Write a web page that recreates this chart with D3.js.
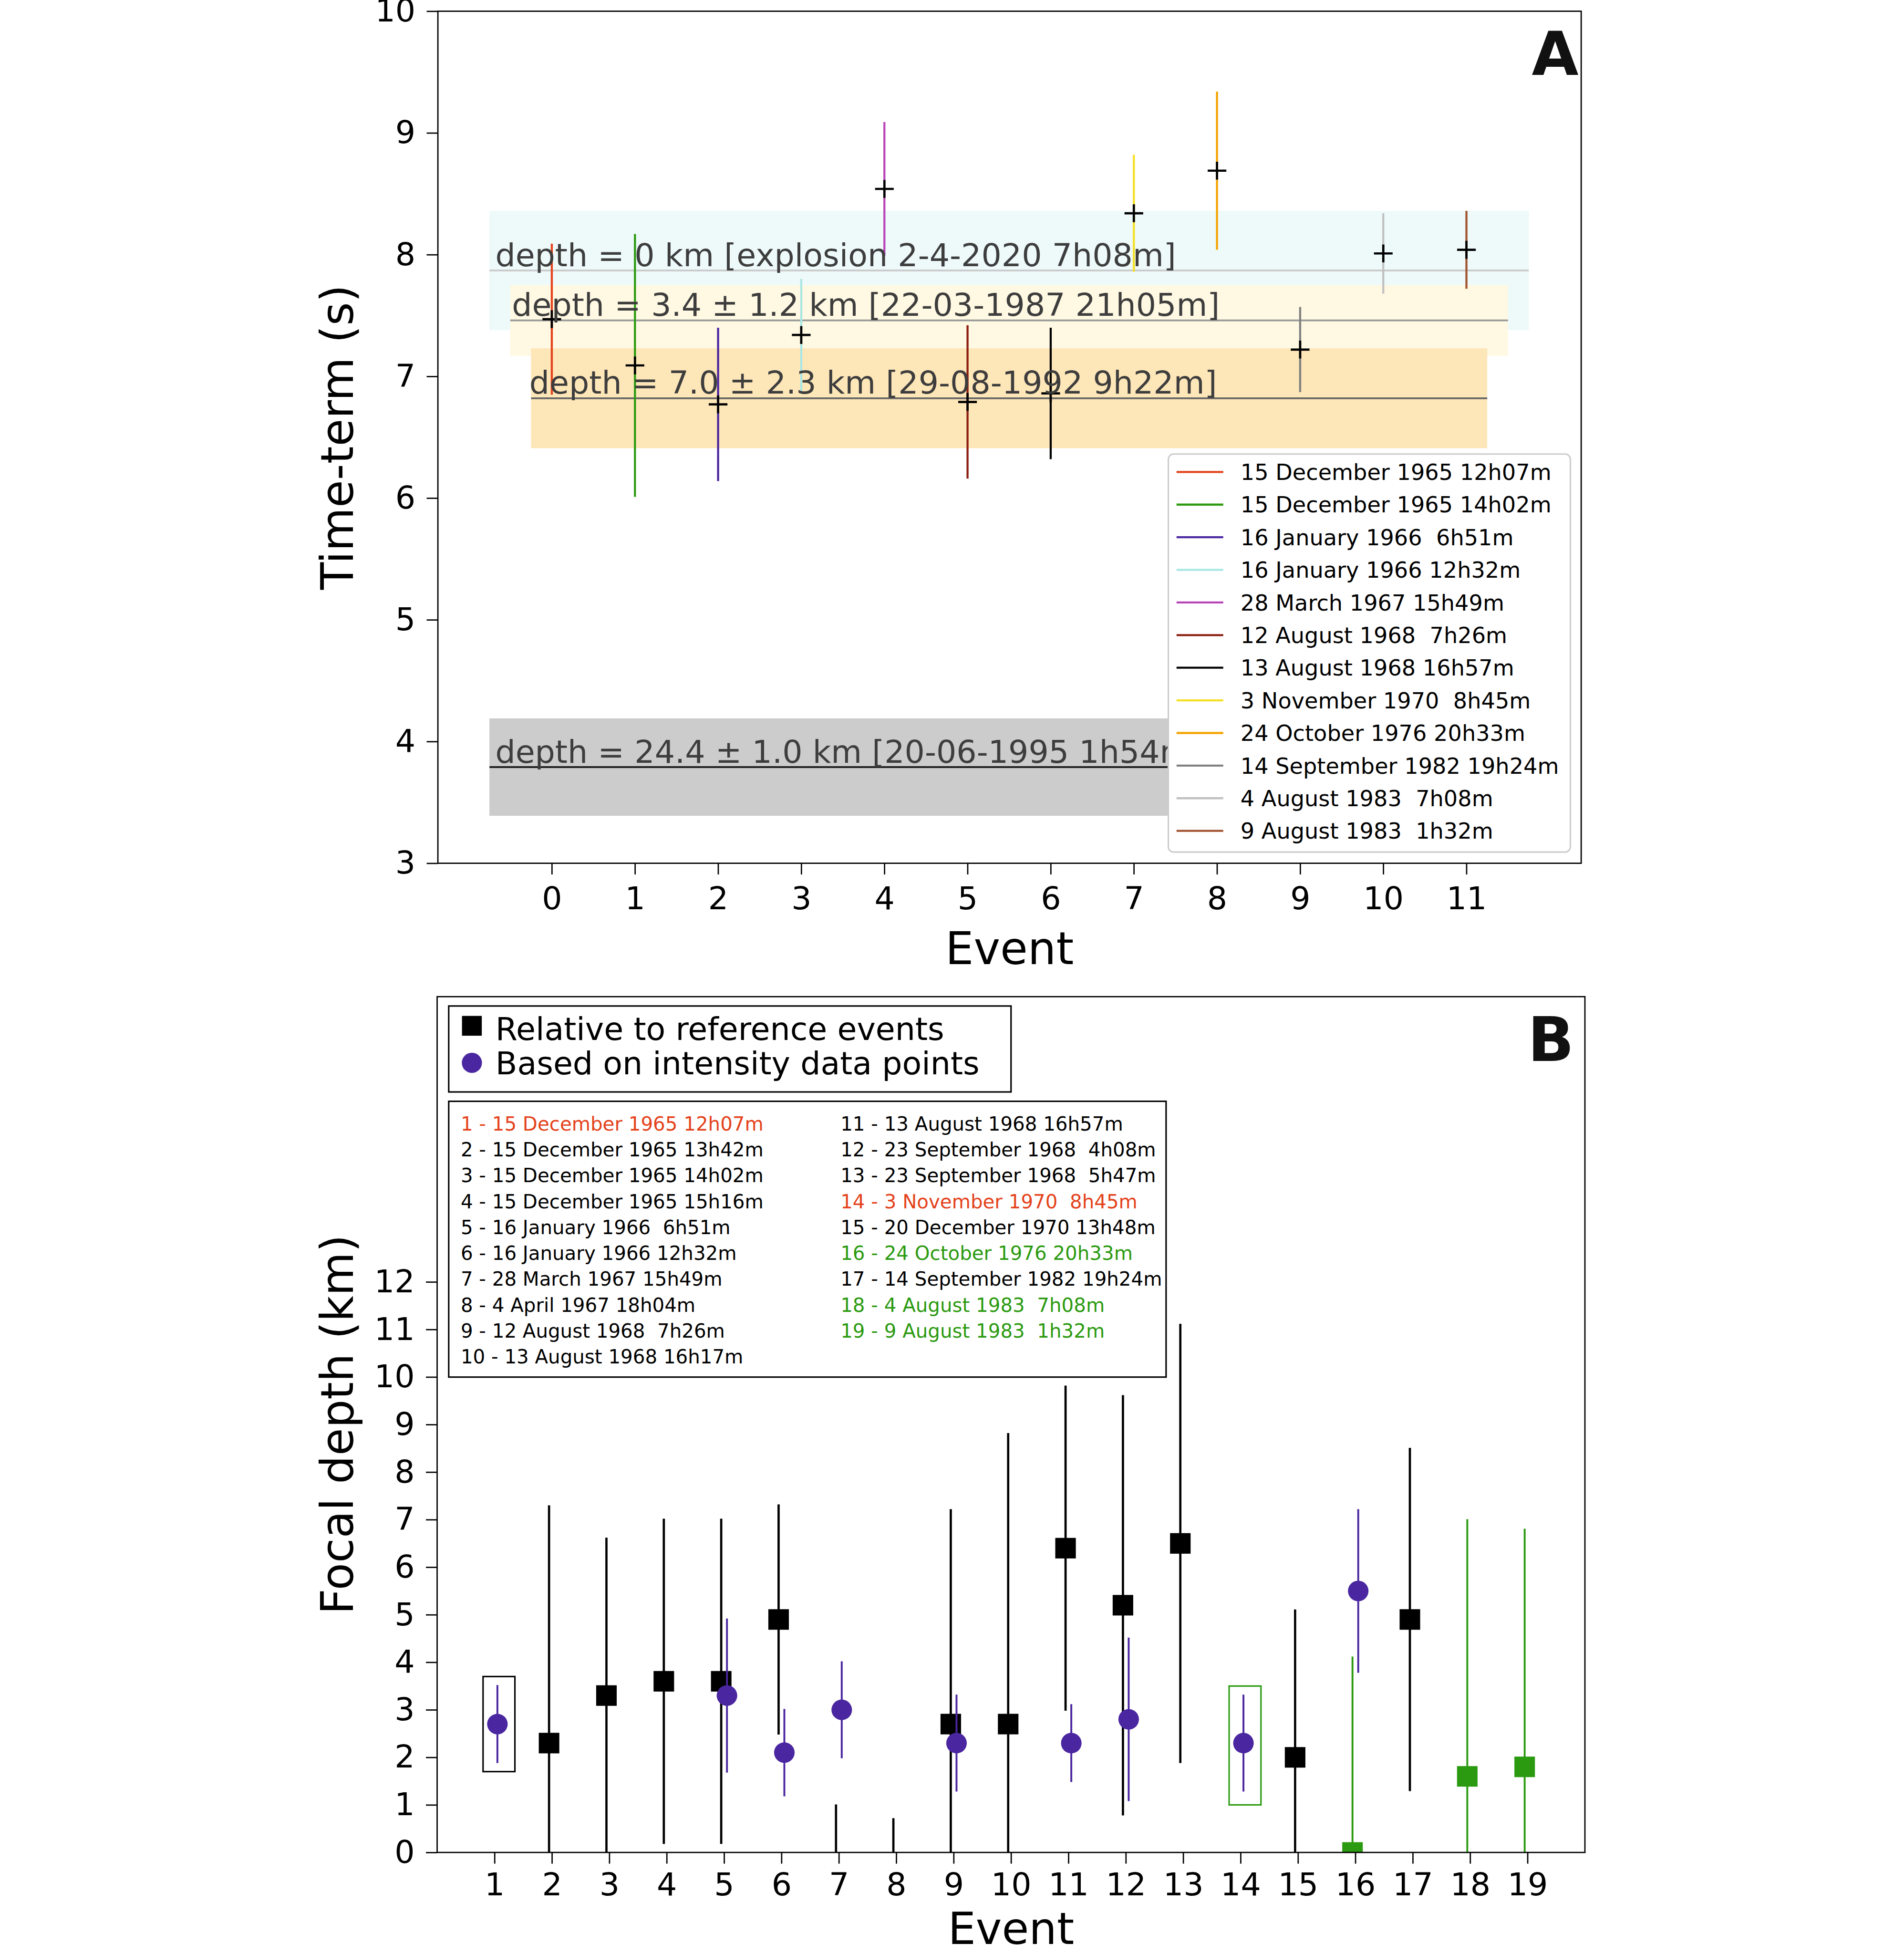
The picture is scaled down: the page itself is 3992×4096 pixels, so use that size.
<!DOCTYPE html>
<html>
<head>
<meta charset="utf-8">
<script src="https://cdn.jsdelivr.net/npm/d3@7/dist/d3.min.js"></script>
<style>
  body { margin: 0; background: #fff; }
  text { font-family: "DejaVu Sans", sans-serif; white-space: pre; }
</style>
</head>
<body>
<svg id="chart"></svg>
<script>
// ---- panel A : time-terms ----
const eventsA = [0, 1, 2, 3, 4, 5, 6, 7, 8, 9, 10, 11];
const timeTerm = [7.47, 7.09, 6.77, 7.34, 8.54, 6.79, 6.86, 8.34, 8.69, 7.22, 8.01, 8.04];
const timeTermErr = [0.62, 1.08, 0.63, 0.46, 0.55, 0.63, 0.54, 0.48, 0.65, 0.35, 0.33, 0.32];
const eventNamesA = ["15 December 1965 12h07m", "15 December 1965 14h02m", "16 January 1966  6h51m",
  "16 January 1966 12h32m", "28 March 1967 15h49m", "12 August 1968  7h26m", "13 August 1968 16h57m",
  "3 November 1970  8h45m", "24 October 1976 20h33m", "14 September 1982 19h24m",
  "4 August 1983  7h08m", "9 August 1983  1h32m"];
const eventColorsA = ["#e4421b", "#2b9a10", "#4a26a0", "#a8e6e4", "#b845b8", "#8b1c10",
  "#000000", "#f5e022", "#f5a300", "#808080", "#c0c0c0", "#a0522d"];

const bandLabels = ["depth = 0 km [explosion 2-4-2020 7h08m]", "depth = 3.4 ± 1.2 km [22-03-1987 21h05m]",
  "depth = 7.0 ± 2.3 km [29-08-1992 9h22m]", "depth = 24.4 ± 1.0 km [20-06-1995 1h54m]"];
const bandCenter = [7.87, 7.46, 6.82, 3.79];
const bandHalf = [0.49, 0.29, 0.41, 0.40];
const bandStart = [-0.75, -0.5, -0.25, -0.75];
const bandEnd = [11.75, 11.5, 11.25, 11.75];
const bandLabelX = [-0.68, -0.48, -0.27, -0.68];
const bandFill = ["#eefafa", "#fff8e2", "#fde6b8", "#cccccc"];
const bandLine = ["#cccccc", "#999999", "#666666", "#222222"];

// ---- panel B : focal depth ----
const squareEvents = [2, 3, 4, 5, 6, 7, 8, 9, 10, 11, 12, 13, 15, 17];
const squareDepth = [2.3, 3.3, 3.6, 3.6, 4.9, -2.3, -2.6, 2.7, 2.7, 6.4, 5.2, 6.5, 2.0, 4.9];
const squareErr = [5.0, 3.32, 3.42, 3.42, 2.42, 3.31, 3.32, 4.52, 6.12, 3.42, 4.42, 4.62, 3.11, 3.61];
const greenEvents = [16, 18, 19];
const greenDepth = [0.0, 1.6, 1.8];
const greenErr = [4.12, 5.41, 5.01];
const circleEvents = [1, 5, 6, 7, 9, 11, 12, 14, 16];
const circleDepth = [2.7, 3.3, 2.1, 3.0, 2.3, 2.3, 2.8, 2.3, 5.5];
const circleErr = [0.82, 1.62, 0.92, 1.02, 1.02, 0.82, 1.72, 1.02, 1.72];
const boxEvents = [1, 14];
const boxLow = [1.7, 1.0];
const boxHigh = [3.7, 3.5];
const eventListB = ["1 - 15 December 1965 12h07m", "2 - 15 December 1965 13h42m", "3 - 15 December 1965 14h02m",
  "4 - 15 December 1965 15h16m", "5 - 16 January 1966  6h51m", "6 - 16 January 1966 12h32m",
  "7 - 28 March 1967 15h49m", "8 - 4 April 1967 18h04m", "9 - 12 August 1968  7h26m",
  "10 - 13 August 1968 16h17m", "11 - 13 August 1968 16h57m", "12 - 23 September 1968  4h08m",
  "13 - 23 September 1968  5h47m", "14 - 3 November 1970  8h45m", "15 - 20 December 1970 13h48m",
  "16 - 24 October 1976 20h33m", "17 - 14 September 1982 19h24m", "18 - 4 August 1983  7h08m",
  "19 - 9 August 1983  1h32m"];
const eventListColor = ["red", "k", "k", "k", "k", "k", "k", "k", "k", "k",
  "k", "k", "k", "red", "k", "green", "k", "green", "green"];

const RED = "#e4421b", GREEN = "#2b9a10", VIOLET = "#4a26a0";
const colorMap = {red: RED, green: GREEN, k: "#000"};

const W = 3992, H = 4096, k = W / 5096;
const svg = d3.select("#chart").attr("width", W).attr("height", H);
const root = svg.append("g").attr("transform", `scale(${k})`);
const defs = svg.append("defs");

function styleAxis(g) {
  g.select(".domain").remove();
  g.selectAll(".tick line").attr("stroke", "#000").attr("stroke-width", 3.5);
  g.selectAll(".tick text").attr("font-size", 85).attr("fill", "#000")
    .attr("font-family", "DejaVu Sans");
}

// ================= PANEL A =================
const axA = {left: 1172, right: 4232, top: 30, bottom: 2310};
const xA = d3.scaleLinear().domain([-1.37, 12.38]).range([axA.left, axA.right]);
const yA = d3.scaleLinear().domain([3, 10]).range([axA.bottom, axA.top]);
const gA = root.append("g");

bandLabels.forEach((lab, i) => {
  gA.append("rect")
    .attr("x", xA(bandStart[i])).attr("width", xA(bandEnd[i]) - xA(bandStart[i]))
    .attr("y", yA(bandCenter[i] + bandHalf[i]))
    .attr("height", yA(bandCenter[i] - bandHalf[i]) - yA(bandCenter[i] + bandHalf[i]))
    .attr("fill", bandFill[i]);
});
bandLabels.forEach((lab, i) => {
  gA.append("line")
    .attr("x1", xA(bandStart[i])).attr("x2", xA(bandEnd[i]))
    .attr("y1", yA(bandCenter[i])).attr("y2", yA(bandCenter[i]))
    .attr("stroke", bandLine[i]).attr("stroke-width", 5);
});

// error bars A
gA.selectAll(".errA").data(eventsA).enter().append("line")
  .attr("x1", d => xA(d)).attr("x2", d => xA(d))
  .attr("y1", (d, i) => yA(timeTerm[i] - timeTermErr[i]))
  .attr("y2", (d, i) => yA(timeTerm[i] + timeTermErr[i]))
  .attr("stroke", (d, i) => eventColorsA[i]).attr("stroke-width", 5.5);

gA.selectAll(".plusA").data(eventsA).enter().append("path")
  .attr("transform", (d, i) => `translate(${xA(d)},${yA(timeTerm[i])})`)
  .attr("d", "M-25,0H25M0,-24V24")
  .attr("stroke", "#000").attr("stroke-width", 6).attr("fill", "none");

// band labels (the last one runs under the legend)
const legA = {x: 3127, y: 1215, w: 1076, h: 1065};
defs.append("clipPath").attr("id", "clipLab")
  .append("rect").attr("x", 0).attr("y", 0).attr("width", legA.x).attr("height", 5229);
bandLabels.forEach((lab, i) => {
  const t = gA.append("text")
    .attr("x", xA(bandLabelX[i])).attr("y", yA(bandCenter[i]) - 12)
    .attr("font-size", 85).attr("fill", "#3d3d3d")
    .text(lab);
  if (i === 3) t.attr("clip-path", "url(#clipLab)");
});

// axes A
gA.append("g").attr("transform", `translate(${axA.left},0)`)
  .call(d3.axisLeft(yA).tickValues([3, 4, 5, 6, 7, 8, 9, 10]).tickFormat(d3.format("d"))
    .tickSize(30).tickPadding(30))
  .call(styleAxis);
gA.append("g").attr("transform", `translate(0,${axA.bottom})`)
  .call(d3.axisBottom(xA).tickValues(eventsA).tickFormat(d3.format("d")).tickSize(30).tickPadding(33))
  .call(styleAxis);
gA.append("rect").attr("x", axA.left).attr("y", axA.top)
  .attr("width", axA.right - axA.left).attr("height", axA.bottom - axA.top)
  .attr("fill", "none").attr("stroke", "#000").attr("stroke-width", 3.5);

// legend A
const lgA = gA.append("g");
lgA.append("rect").attr("x", legA.x).attr("y", legA.y).attr("width", legA.w).attr("height", legA.h)
  .attr("rx", 14).attr("fill", "#fff").attr("stroke", "#cccccc").attr("stroke-width", 4);
eventNamesA.forEach((name, i) => {
  const yy = 1263 + i * 87.3;
  lgA.append("line").attr("x1", 3149).attr("x2", 3274).attr("y1", yy).attr("y2", yy)
    .attr("stroke", eventColorsA[i]).attr("stroke-width", 5.5);
  lgA.append("text").attr("x", 3320).attr("y", yy).attr("dy", "0.36em")
    .attr("font-size", 59).attr("fill", "#000").text(name);
});

gA.append("text").attr("x", 4225).attr("y", 200).attr("text-anchor", "end")
  .attr("font-size", 162).attr("font-weight", "bold").attr("fill", "#111").text("A");
gA.append("text").attr("transform", `translate(945,${(axA.top + axA.bottom) / 2}) rotate(-90)`)
  .attr("text-anchor", "middle").attr("font-size", 120).text("Time-term (s)");
gA.append("text").attr("x", (axA.left + axA.right) / 2).attr("y", 2580)
  .attr("text-anchor", "middle").attr("font-size", 120).text("Event");

// ================= PANEL B =================
const axB = {left: 1170, right: 4242, top: 2667, bottom: 4957};
const xB = d3.scaleLinear().domain([0, 20]).range([axB.left, axB.right]);
const yB = d3.scaleLinear().domain([0, 18]).range([axB.bottom, axB.top]);
const gB = root.append("g");
defs.append("clipPath").attr("id", "clipB")
  .append("rect").attr("x", axB.left).attr("y", axB.top)
  .attr("width", axB.right - axB.left).attr("height", axB.bottom - axB.top);
const plotB = gB.append("g").attr("clip-path", "url(#clipB)");
const sq = 55, off = 0.05;

// highlight boxes
boxEvents.forEach((e, i) => {
  plotB.append("rect")
    .attr("x", xB(e - 0.2)).attr("width", xB(e + 0.355) - xB(e - 0.2))
    .attr("y", yB(boxHigh[i])).attr("height", yB(boxLow[i]) - yB(boxHigh[i]))
    .attr("fill", "none").attr("stroke", i === 0 ? "#000" : GREEN).attr("stroke-width", 4);
});

function errBars(events, vals, errs, color, width, dx) {
  plotB.append("g").selectAll("line").data(events).enter().append("line")
    .attr("x1", d => xB(d + dx)).attr("x2", d => xB(d + dx))
    .attr("y1", (d, i) => yB(vals[i] - errs[i]))
    .attr("y2", (d, i) => yB(vals[i] + errs[i]))
    .attr("stroke", color).attr("stroke-width", width);
}
function squares(events, vals, color) {
  plotB.append("g").selectAll("rect").data(events).enter().append("rect")
    .attr("x", d => xB(d - off) - sq / 2).attr("y", (d, i) => yB(vals[i]) - sq / 2)
    .attr("width", sq).attr("height", sq).attr("fill", color);
}
errBars(squareEvents, squareDepth, squareErr, "#000", 6, -off);
squares(squareEvents, squareDepth, "#000");
errBars(greenEvents, greenDepth, greenErr, GREEN, 5, -off);
squares(greenEvents, greenDepth, GREEN);
errBars(circleEvents, circleDepth, circleErr, VIOLET, 5, off);
plotB.append("g").selectAll("circle").data(circleEvents).enter().append("circle")
  .attr("cx", d => xB(d + off)).attr("cy", (d, i) => yB(circleDepth[i]))
  .attr("r", sq / 2).attr("fill", VIOLET);

// axes B
gB.append("g").attr("transform", `translate(${axB.left},0)`)
  .call(d3.axisLeft(yB).tickValues([0, 1, 2, 3, 4, 5, 6, 7, 8, 9, 10, 11, 12]).tickFormat(d3.format("d"))
    .tickSize(30).tickPadding(30))
  .call(styleAxis);
gB.append("g").attr("transform", `translate(0,${axB.bottom})`)
  .call(d3.axisBottom(xB).tickValues([1, 2, 3, 4, 5, 6, 7, 8, 9, 10, 11, 12, 13, 14, 15, 16, 17, 18, 19])
    .tickFormat(d3.format("d")).tickSize(30).tickPadding(24))
  .call(styleAxis);
gB.append("rect").attr("x", axB.left).attr("y", axB.top)
  .attr("width", axB.right - axB.left).attr("height", axB.bottom - axB.top)
  .attr("fill", "none").attr("stroke", "#000").attr("stroke-width", 3.5);

// marker legend
const lgB1 = gB.append("g");
lgB1.append("rect").attr("x", 1201).attr("y", 2692).attr("width", 1505).attr("height", 230)
  .attr("fill", "#fff").attr("stroke", "#000").attr("stroke-width", 4);
lgB1.append("rect").attr("x", 1263 - 26.5).attr("y", 2745 - 26.5).attr("width", 53).attr("height", 53)
  .attr("fill", "#000");
lgB1.append("circle").attr("cx", 1263).attr("cy", 2844).attr("r", 27).attr("fill", VIOLET);
lgB1.append("text").attr("x", 1326).attr("y", 2783).attr("font-size", 85).text("Relative to reference events");
lgB1.append("text").attr("x", 1326).attr("y", 2875).attr("font-size", 85).text("Based on intensity data points");

// event list legend
const lgB2 = gB.append("g");
lgB2.append("rect").attr("x", 1201).attr("y", 2947).attr("width", 1920).attr("height", 738)
  .attr("fill", "#fff").attr("stroke", "#000").attr("stroke-width", 4);
eventListB.forEach((s, i) => {
  const col = i < 10 ? 0 : 1, row = i < 10 ? i : i - 10;
  lgB2.append("text").attr("x", col === 0 ? 1233 : 2249.5).attr("y", 3025 + row * 69.3)
    .attr("font-size", 51.5).attr("fill", colorMap[eventListColor[i]]).text(s);
});

gB.append("text").attr("x", 4213).attr("y", 2839).attr("text-anchor", "end")
  .attr("font-size", 163).attr("font-weight", "bold").attr("fill", "#111").text("B");
gB.append("text").attr("transform", `translate(945,${(axB.top + axB.bottom) / 2}) rotate(-90)`)
  .attr("text-anchor", "middle").attr("font-size", 120).text("Focal depth (km)");
gB.append("text").attr("x", (axB.left + axB.right) / 2).attr("y", 5202)
  .attr("text-anchor", "middle").attr("font-size", 118).text("Event");
</script>
</body>
</html>
